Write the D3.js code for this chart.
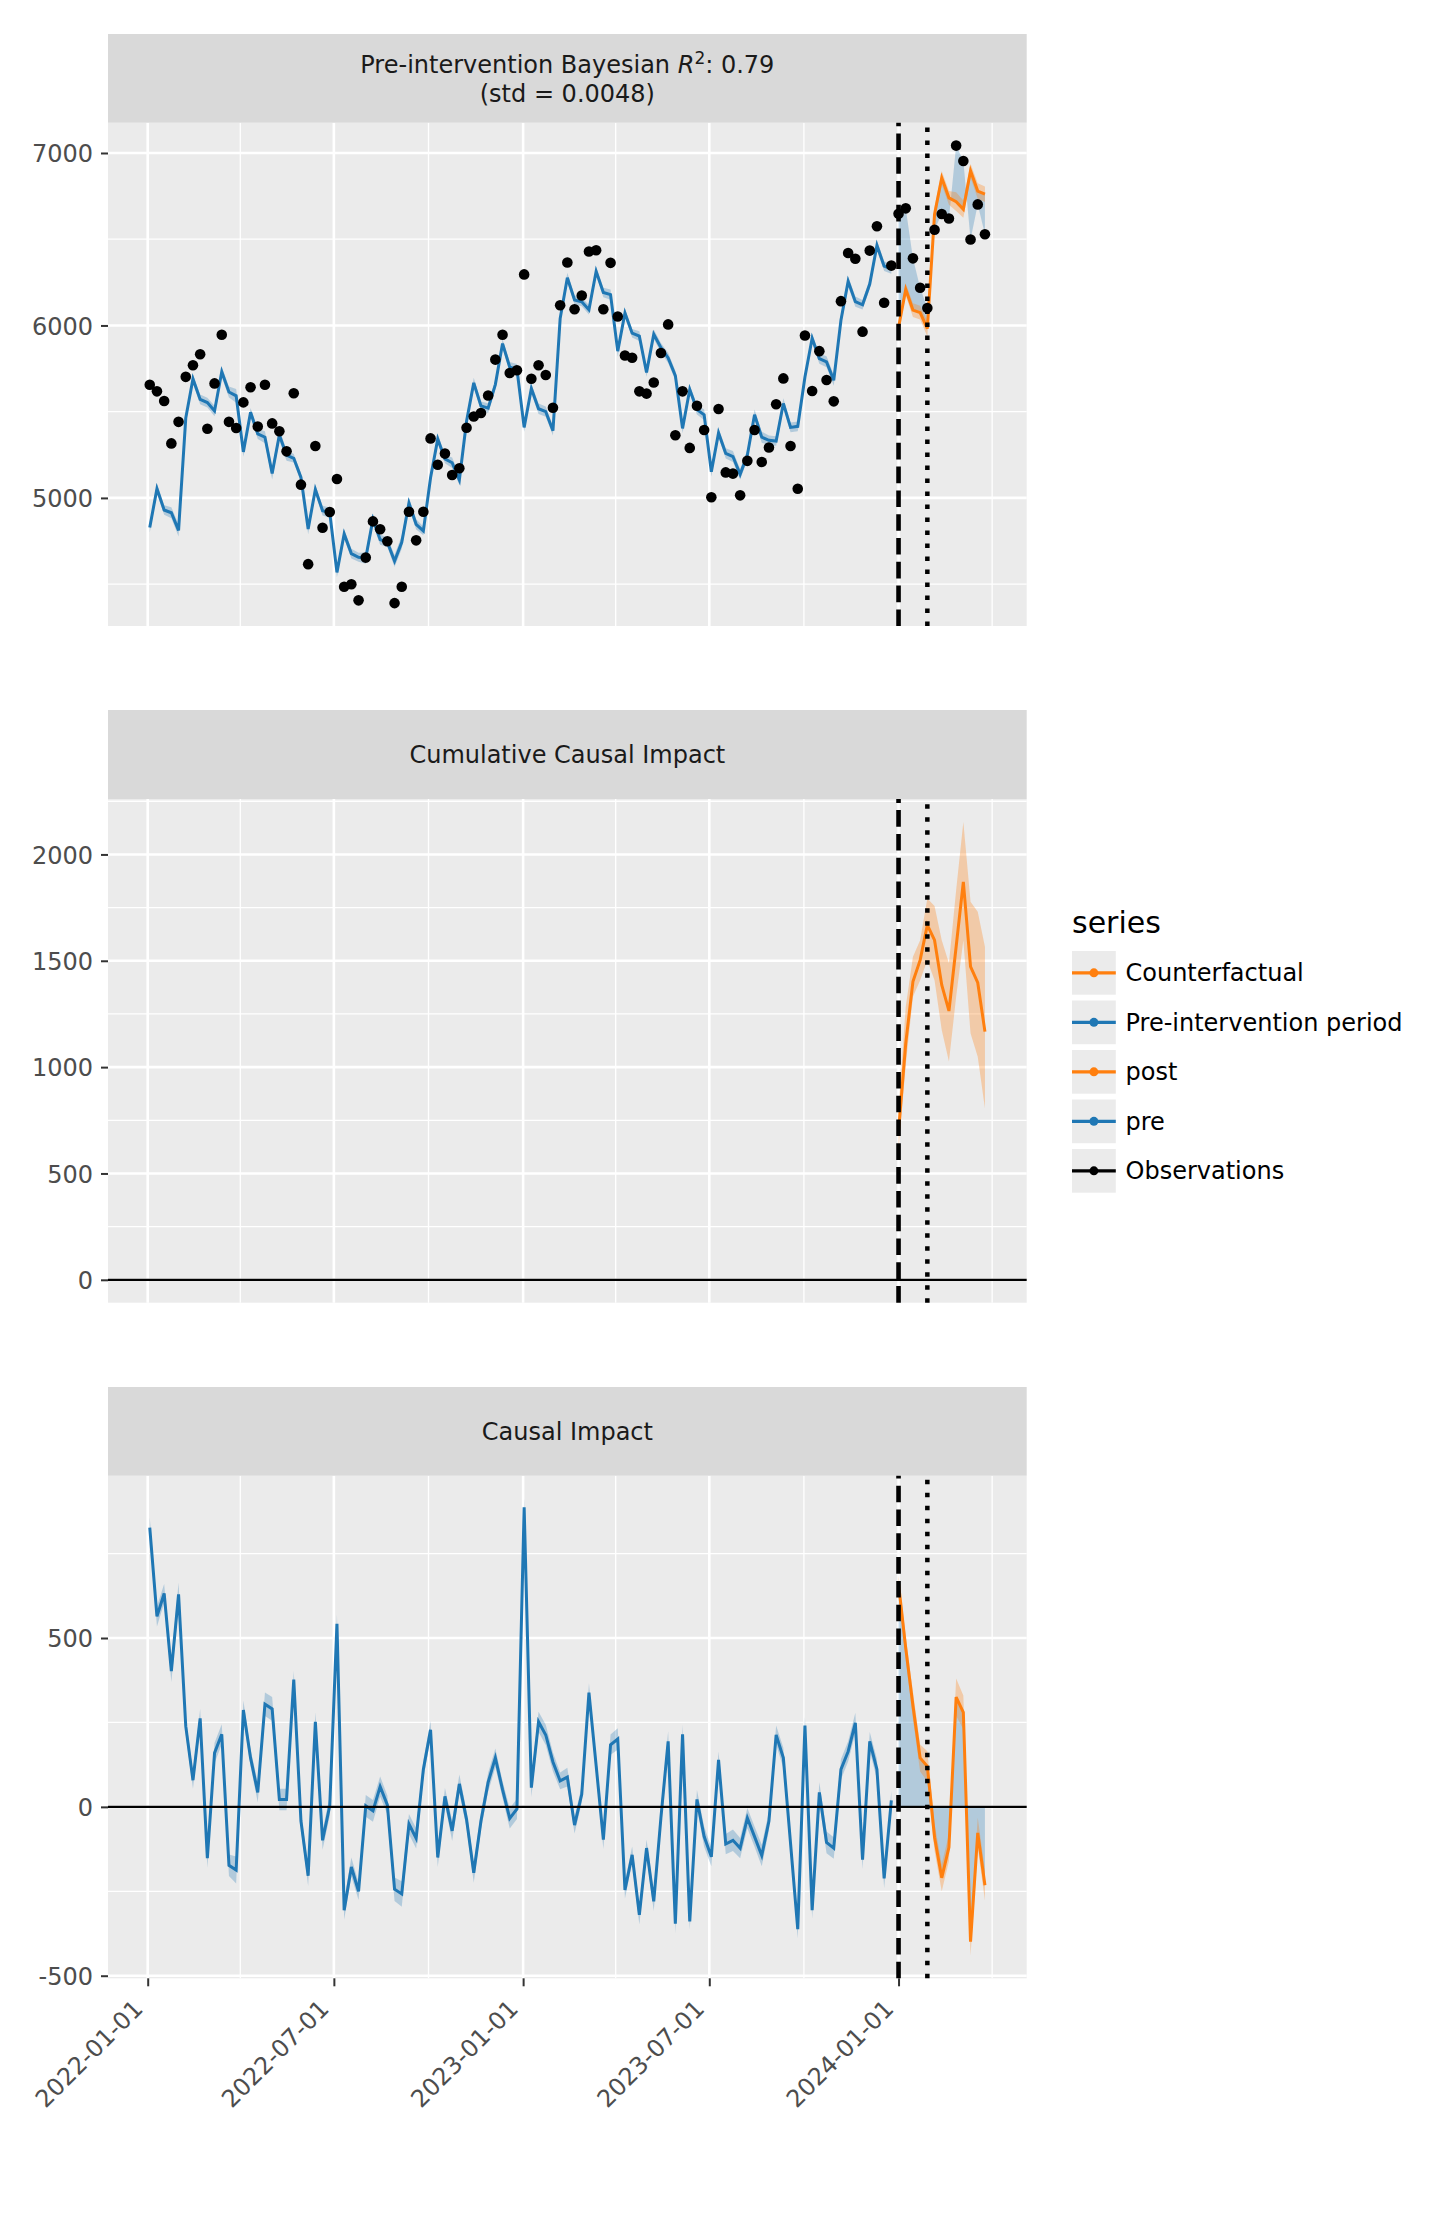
<!DOCTYPE html>
<html>
<head>
<meta charset="utf-8">
<script src="https://cdn.jsdelivr.net/npm/d3@7"></script>
<style>
  body { margin: 0; background: #fff; }
  svg { display: block; font-family: "DejaVu Sans", sans-serif; }
</style>
</head>
<body>
<div class="chart"></div>
<script>
// weekly (Monday) observations
const startDate = "2022-01-03";
const endDate = "2024-03-25";
const interventionDate = "2024-01-01";
const treatmentEndDate = "2024-01-29";

const observed = [5656,5618,5562,5316,5441,5702,5769,5833,5401,5664,
  5946,5441,5405,5554,5642,5414,5656,5432,5387,5270,
  5607,5077,4616,5301,4827,4918,5110,4485,4499,4406,
  4654,4864,4818,4749,4390,4485,4920,4754,4920,5345,
  5192,5257,5133,5172,5407,5472,5492,5594,5802,5946,
  5724,5740,6296,5691,5769,5713,5523,6117,6365,6094,
  6174,6429,6436,6094,6363,6052,5826,5813,5618,5605,
  5669,5840,6006,5363,5618,5290,5534,5394,5004,5516,
  5148,5141,5015,5215,5394,5208,5292,5543,5693,5301,
  5053,5942,5620,5851,5684,5560,6141,6420,6387,5964,
  6434,6575,6132,6347,6648,6679,6389,6219,6101,6555,
  6646,6620,7043,6954,6498,6702,6529];

// model fit before the intervention, counterfactual after it
const fitted = [4829,5054,4930,4914,4812,5463,5690,5571,5553,5504,
  5731,5614,5592,5267,5497,5371,5352,5142,5365,5248,
  5230,5119,4820,5049,4926,4915,4568,4791,4677,4656,
  4651,4876,4758,4743,4634,4743,4971,4847,4809,5117,
  5342,5226,5204,5104,5444,5667,5534,5521,5657,5895,
  5758,5746,5409,5634,5517,5500,5390,6040,6277,6148,
  6137,6091,6314,6191,6179,5851,6072,5955,5938,5727,
  5949,5871,5812,5709,5403,5629,5512,5482,5152,5377,
  5258,5240,5137,5248,5482,5352,5334,5330,5548,5409,
  5415,5701,5926,5808,5789,5682,6030,6256,6138,6120,
  6240,6464,6344,6328,5988,6209,6089,6074,5981,6645,
  6856,6740,6718,6674,6897,6779,6761];

// half width of the HDI band around the fit
const hdi = [30,30,28,32,35,25,25,28,28,30,
  30,32,40,28,25,30,35,35,32,32,
  25,25,30,28,28,30,28,28,28,26,
  32,32,30,28,35,38,30,30,26,26,
  28,25,30,28,25,30,25,28,28,25,
  30,30,26,28,30,30,28,25,28,25,
  25,28,25,28,30,32,25,25,28,25,
  28,28,30,28,28,25,28,30,28,25,
  30,32,30,30,30,32,28,28,30,28,
  28,25,25,30,32,32,30,30,30,28,
  28,30,28,28,25,35,40,40,45,40,
  40,40,55,50,41,45,45];

const impact = [827,564,632,402,629,239,79,262,-152,160,
  215,-173,-187,287,145,43,304,290,22,22,
  377,-42,-204,252,-99,3,542,-306,-178,-250,
  3,-12,60,6,-244,-258,-51,-93,111,228,
  -150,31,-71,68,-37,-195,-42,73,145,51,
  -34,-6,887,57,252,213,133,77,88,-54,
  37,338,122,-97,184,201,-246,-142,-320,-122,
  -280,-31,194,-346,215,-339,22,-88,-148,139,
  -110,-99,-122,-33,-88,-144,-42,213,145,-108,
  -362,241,-306,43,-105,-122,111,164,249,-156,
  194,111,-212,19,660,470,300,145,120,-90,
  -210,-120,325,280,-399,-77,-232];

// cumulative impact, post period only
const cumImpact = [700,1112,1402,1503,1668,1597,1386,1264,1566,1871,1472,1397,1167];
const cumLower  = [610,1010,1331,1409,1503,1409,1175,1026,1331,1597,1159,1049,807];
const cumUpper  = [800,1284,1519,1597,1793,1757,1597,1488,1832,2153,1778,1730,1566];

const xMajorTicks = ["2022-01-01","2022-07-01","2023-01-01","2023-07-01","2024-01-01"];
const xMinorTicks = ["2022-04-01","2022-10-01","2023-04-01","2023-10-01","2024-04-01"];
const yTicks1 = [5000,6000,7000], yMinor1 = [4500,5500,6500];
const yTicks2 = [0,500,1000,1500,2000], yMinor2 = [250,750,1250,1750,2250];
const yTicks3 = [-500,0,500], yMinor3 = [-250,250,750];
const legendNames = ["Counterfactual","Pre-intervention period","post","pre","Observations"];

const BLUE = "#1f77b4", ORANGE = "#ff7f0e";
const legendColors = [ORANGE, BLUE, ORANGE, BLUE, "#000"];

const W = 1439, H = 2240;
const left = 108, right = 1026.7;
const layout = [
  {stripTop: 34,   top: 122.7,  bottom: 626},
  {stripTop: 710,  top: 799,    bottom: 1302.7},
  {stripTop: 1387, top: 1475.7, bottom: 1978.3}
];

const parse = s => new Date(s + "T00:00:00Z");
const expand = ([a, b], k = 0.05) => [a - (b - a) * k, b + (b - a) * k];

const dates = d3.utcMonday.range(parse(startDate), d3.utcDay.offset(parse(endDate), 1));
const tInt = parse(interventionDate), tEnd = parse(treatmentEndDate);

const rows = dates.map((d, i) => ({
  date: d, obs: observed[i], mu: fitted[i], hdi: hdi[i], impact: impact[i]
}));
const pre = rows.filter(r => r.date < tInt);
const post = rows.filter(r => r.date >= tInt);
post.forEach((r, j) => { r.cum = cumImpact[j]; r.cumLo = cumLower[j]; r.cumHi = cumUpper[j]; });

const x = d3.scaleUtc()
  .domain(expand(d3.extent(dates, d => +d)).map(v => new Date(v)))
  .range([left, right]);

const y1 = d3.scaleLinear()
  .domain(expand(d3.extent([...observed, ...rows.map(r => r.mu - r.hdi), ...rows.map(r => r.mu + r.hdi)])))
  .range([layout[0].bottom, layout[0].top]);
const y2 = d3.scaleLinear()
  .domain(expand(d3.extent([0, ...cumLower, ...cumUpper])))
  .range([layout[1].bottom, layout[1].top]);
const y3 = d3.scaleLinear()
  .domain(expand(d3.extent([0, ...rows.map(r => r.impact - r.hdi), ...rows.map(r => r.impact + r.hdi)])))
  .range([layout[2].bottom, layout[2].top]);

const svg = d3.select(".chart").append("svg")
  .attr("width", W).attr("height", H);

/* Panel background, grid, strip and y axis */
function frame(p, y, major, minor) {
  const g = svg.append("g");
  g.append("rect")
    .attr("x", left).attr("y", p.top)
    .attr("width", right - left).attr("height", p.bottom - p.top)
    .attr("fill", "#ebebeb");

  const grid = (vals, w) => {
    g.selectAll(null).data(vals).join("line")
      .attr("x1", left).attr("x2", right)
      .attr("y1", d => y(d)).attr("y2", d => y(d))
      .attr("stroke", "#fff").attr("stroke-width", w);
  };
  const vgrid = (vals, w) => {
    g.selectAll(null).data(vals.map(parse)).join("line")
      .attr("x1", d => x(d)).attr("x2", d => x(d))
      .attr("y1", p.top).attr("y2", p.bottom)
      .attr("stroke", "#fff").attr("stroke-width", w);
  };
  grid(minor, 1.3); vgrid(xMinorTicks, 1.3);
  grid(major, 2.6); vgrid(xMajorTicks, 2.6);

  g.append("rect")
    .attr("x", left).attr("y", p.stripTop)
    .attr("width", right - left).attr("height", p.top - p.stripTop)
    .attr("fill", "#d9d9d9");

  const ax = g.append("g")
    .attr("transform", "translate(" + left + ",0)")
    .call(d3.axisLeft(y).tickValues(major).tickSize(7).tickPadding(8).tickFormat(d => String(d)));
  ax.select(".domain").remove();
  ax.attr("font-size", 24).attr("font-family", "DejaVu Sans").attr("color", "#333");
  ax.selectAll("line").attr("stroke-width", 2);
  ax.selectAll("text").attr("fill", "#4d4d4d").attr("dy", "0.36em");

  const content = svg.append("g");
  return content;
}

function stripText(p, lines) {
  const cy = (p.stripTop + p.top) / 2;
  const n = lines.length;
  return lines.map((s, i) => svg.append("text")
    .attr("x", (left + right) / 2)
    .attr("y", cy + 8.7 + (i - (n - 1) / 2) * 29)
    .attr("text-anchor", "middle")
    .attr("font-size", 24)
    .attr("fill", "#1a1a1a")
    .text(s));
}

function vlines(g, p) {
  g.append("line")
    .attr("x1", x(tInt)).attr("x2", x(tInt))
    .attr("y1", p.bottom).attr("y2", p.top)
    .attr("stroke", "#000").attr("stroke-width", 4.6)
    .attr("stroke-dasharray", "16.6,7.2");
  g.append("line")
    .attr("x1", x(tEnd)).attr("x2", x(tEnd))
    .attr("y1", p.bottom).attr("y2", p.top)
    .attr("stroke", "#000").attr("stroke-width", 4.5)
    .attr("stroke-dasharray", "4.5,8.5");
}

function hzero(g, y) {
  g.append("line")
    .attr("x1", left).attr("x2", right)
    .attr("y1", y(0)).attr("y2", y(0))
    .attr("stroke", "#000").attr("stroke-width", 2.2);
}

const band = (y, lo, hi) => d3.area().x(d => x(d.date)).y0(d => y(lo(d))).y1(d => y(hi(d)));
const line = (y, f) => d3.line().x(d => x(d.date)).y(d => y(f(d)));

/* Panel 1: fit, counterfactual and observations */
const g1 = frame(layout[0], y1, yTicks1, yMinor1);
const t1 = stripText(layout[0], ["", "(std = 0.0048)"])[0];
t1.append("tspan").text("Pre-intervention Bayesian ");
t1.append("tspan").attr("font-style", "italic").text("R");
t1.append("tspan").attr("dy", -9).attr("font-size", 17).text("2");
t1.append("tspan").attr("dy", 9).text(": 0.79");

g1.append("path").datum(post)
  .attr("d", band(y1, d => d.mu, d => d.obs))
  .attr("fill", BLUE).attr("fill-opacity", 0.28);
g1.append("path").datum(pre)
  .attr("d", band(y1, d => d.mu - d.hdi, d => d.mu + d.hdi))
  .attr("fill", BLUE).attr("fill-opacity", 0.28);
g1.append("path").datum(post)
  .attr("d", band(y1, d => d.mu - d.hdi, d => d.mu + d.hdi))
  .attr("fill", ORANGE).attr("fill-opacity", 0.3);
g1.append("path").datum(pre)
  .attr("d", line(y1, d => d.mu))
  .attr("fill", "none").attr("stroke", BLUE).attr("stroke-width", 3);
g1.append("path").datum(post)
  .attr("d", line(y1, d => d.mu))
  .attr("fill", "none").attr("stroke", ORANGE).attr("stroke-width", 3);
vlines(g1, layout[0]);
g1.selectAll("circle").data(rows).join("circle")
  .attr("cx", d => x(d.date)).attr("cy", d => y1(d.obs))
  .attr("r", 5.3).attr("fill", "#000");

/* Panel 2: cumulative causal impact */
const g2 = frame(layout[1], y2, yTicks2, yMinor2);
stripText(layout[1], ["Cumulative Causal Impact"]);
g2.append("path").datum(post)
  .attr("d", band(y2, d => d.cumLo, d => d.cumHi))
  .attr("fill", ORANGE).attr("fill-opacity", 0.3);
g2.append("path").datum(post)
  .attr("d", line(y2, d => d.cum))
  .attr("fill", "none").attr("stroke", ORANGE).attr("stroke-width", 3);
hzero(g2, y2);
vlines(g2, layout[1]);

/* Panel 3: causal impact */
const g3 = frame(layout[2], y3, yTicks3, yMinor3);
stripText(layout[2], ["Causal Impact"]);
g3.append("path").datum(post)
  .attr("d", band(y3, () => 0, d => d.impact))
  .attr("fill", BLUE).attr("fill-opacity", 0.28);
g3.append("path").datum(pre)
  .attr("d", band(y3, d => d.impact - d.hdi, d => d.impact + d.hdi))
  .attr("fill", BLUE).attr("fill-opacity", 0.28);
g3.append("path").datum(post)
  .attr("d", band(y3, d => d.impact - d.hdi, d => d.impact + d.hdi))
  .attr("fill", ORANGE).attr("fill-opacity", 0.3);
g3.append("path").datum(pre)
  .attr("d", line(y3, d => d.impact))
  .attr("fill", "none").attr("stroke", BLUE).attr("stroke-width", 3);
g3.append("path").datum(post)
  .attr("d", line(y3, d => d.impact))
  .attr("fill", "none").attr("stroke", ORANGE).attr("stroke-width", 3);
hzero(g3, y3);
vlines(g3, layout[2]);

/* x axis under the last panel */
const xa = svg.append("g")
  .attr("transform", "translate(0," + layout[2].bottom + ")")
  .call(d3.axisBottom(x).tickValues(xMajorTicks.map(parse)).tickSize(8)
    .tickFormat(d3.utcFormat("%Y-%m-%d")));
xa.select(".domain").remove();
xa.attr("font-size", 24).attr("font-family", "DejaVu Sans").attr("color", "#333");
xa.selectAll("line").attr("stroke-width", 2);
xa.selectAll("text")
  .attr("fill", "#4d4d4d")
  .attr("x", 0).attr("y", 0).attr("dy", 0)
  .attr("text-anchor", "end")
  .attr("transform", "translate(-4,32) rotate(-45)");

/* Legend */
const legend = svg.append("g").attr("transform", "translate(1072,0)");
legend.append("text")
  .attr("x", 0).attr("y", 933)
  .attr("font-size", 30).attr("fill", "#000")
  .text("series");
const keys = legend.selectAll(".key").data(legendNames).join("g")
  .attr("transform", (d, i) => "translate(0," + (951 + i * 49.5) + ")");
keys.append("rect")
  .attr("width", 43.8).attr("height", 43.7).attr("fill", "#ebebeb");
keys.append("line")
  .attr("x1", 0).attr("x2", 43.8).attr("y1", 21.85).attr("y2", 21.85)
  .attr("stroke", (d, i) => legendColors[i]).attr("stroke-width", 3.2);
keys.append("circle")
  .attr("cx", 21.9).attr("cy", 21.85).attr("r", 4.5)
  .attr("fill", (d, i) => legendColors[i]);
keys.append("text")
  .attr("x", 53.5).attr("y", 21.85).attr("dy", "0.36em")
  .attr("font-size", 24).attr("fill", "#000")
  .text(d => d);
</script>
</body>
</html>
